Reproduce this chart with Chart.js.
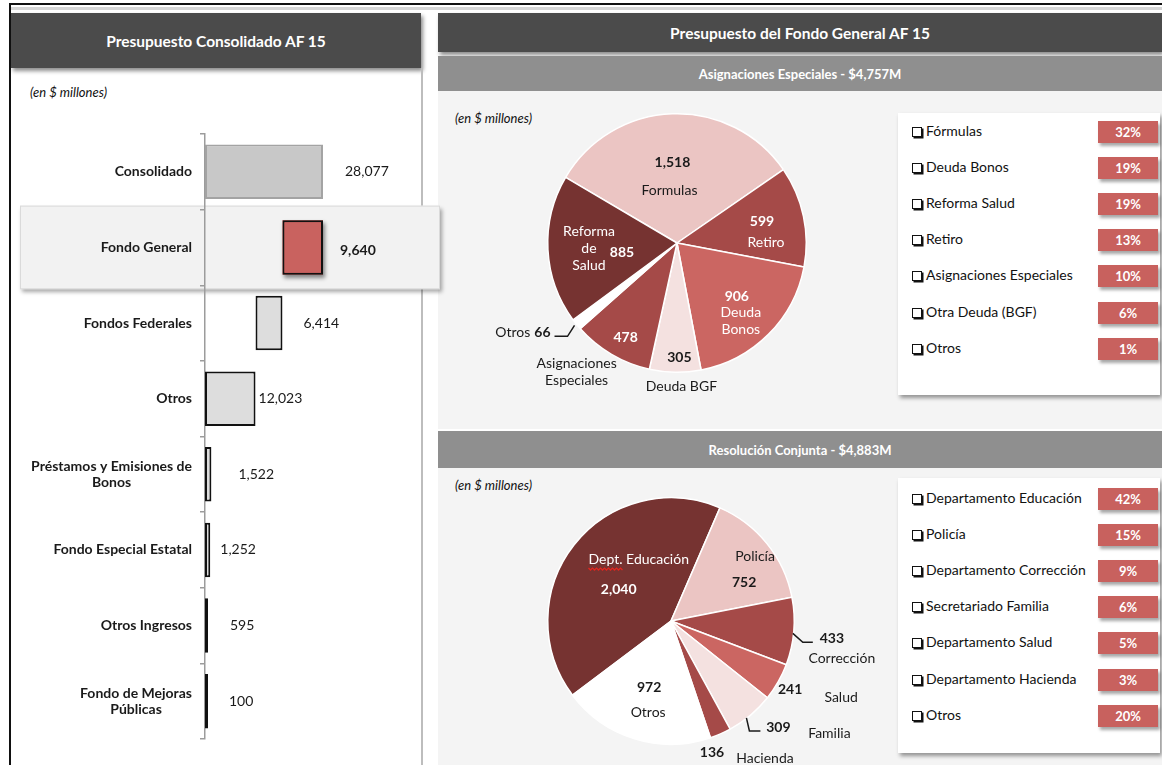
<!DOCTYPE html>
<html lang="es">
<head>
<meta charset="utf-8">
<title>Presupuesto AF 15</title>
<script src="https://cdn.jsdelivr.net/npm/chart.js@4.4.1/dist/chart.umd.min.js"></script>
<style>
  html, body { margin: 0; padding: 0; background: #fff; }
  body { width: 1162px; height: 765px; position: relative; overflow: hidden;
         font-family: Lato, 'DejaVu Sans', sans-serif; color: #111; }
  .abs { position: absolute; }
  .bar-head { background: #4b4b4b; color: #fff; font-weight: bold; font-size: 15.5px;
              display: flex; align-items: center; justify-content: center;
              box-shadow: 2px 3px 4px rgba(0,0,0,.45); }
  .sub-head { left: 438px; width: 724px; background: #8f8f8f; color: #fff; font-weight: bold;
              font-size: 13px; display: flex; align-items: center; justify-content: center; }
  .panel { left: 438px; width: 724px; background: #f4f4f4; }
  .unit { font-style: italic; font-size: 13px; }
  .legend { left: 898px; width: 262px; background: #fff; box-shadow: 2px 3px 4px rgba(0,0,0,.4); }
  .legend .row { position: absolute; left: 14px; font-size: 14px; line-height: 20px; white-space: nowrap; }
  .legend .tick { display: inline-block; width: 8px; height: 8px; border: 1.5px solid #111;
                  box-shadow: 1.5px 1.5px 0 #111; margin-right: 4px; vertical-align: -1px; background: #fff; }
  .legend .badge { position: absolute; left: 200px; width: 60px; height: 22px; line-height: 22px;
                   background: #c8615e; color: #fff; font-weight: bold; font-size: 13px; text-align: center;
                   box-shadow: 2px 3px 3px rgba(0,0,0,.35); }
  canvas { position: absolute; }
</style>
</head>
<body>
  <div class="abs" style="left:10px;top:3px;width:1152px;height:2px;background:#111"></div>
  <div class="abs" style="left:10px;top:7px;width:1152px;height:3px;background:#d6d6d6"></div>
  <div class="abs" style="left:9px;top:3px;width:2px;height:762px;background:#111"></div>

  <!-- left column -->
  <div class="abs bar-head" style="left:11px;top:13px;width:410px;height:55px">Presupuesto Consolidado AF 15</div>
  <div class="abs" style="left:421px;top:68px;width:2px;height:697px;background:#bdbdbd"></div>
  <div class="abs unit" style="left:30px;top:84px">(en $ millones)</div>

  <!-- right column -->
  <div class="abs bar-head" style="left:438px;top:13px;width:724px;height:39px">Presupuesto del Fondo General AF 15</div>
  <div class="abs sub-head" id="asigHead" style="top:56px;height:35px"></div>
  <div class="abs panel" style="top:91px;height:338px"></div>
  <div class="abs unit" style="left:455px;top:110px">(en $ millones)</div>
  <div class="abs legend" id="asigLegend" style="top:113px;height:282px"></div>

  <div class="abs sub-head" id="rcHead" style="top:431px;height:37px"></div>
  <div class="abs panel" style="top:468px;height:297px"></div>
  <div class="abs unit" style="left:455px;top:477px">(en $ millones)</div>
  <div class="abs legend" id="rcLegend" style="top:478px;height:275px"></div>

  <canvas id="barChart" width="440" height="665" style="left:10px;top:100px"></canvas>
  <canvas id="asigChart" width="455" height="338" style="left:440px;top:92px"></canvas>
  <canvas id="rcChart" width="455" height="297" style="left:440px;top:468px"></canvas>

<script>
// Presupuesto consolidado (en $ millones)
const barCategories = ['Consolidado', 'Fondo General', 'Fondos Federales', 'Otros',
  'Préstamos y Emisiones de\nBonos', 'Fondo Especial Estatal', 'Otros Ingresos', 'Fondo de Mejoras\nPúblicas'];
const barAmounts = [28077, 9640, 6414, 12023, 1522, 1252, 595, 100];
// parts of the consolidated total, stacked from the axis outwards
const waterfallParts = [3, 2, 1];
const focusIndex = 1;

// Asignaciones especiales
const asigNames = ['Formulas', 'Retiro', 'Deuda\nBonos', 'Deuda BGF', 'Asignaciones\nEspeciales', 'Otros', 'Reforma\nde\nSalud'];
const asigLegendNames = ['Fórmulas', 'Retiro', 'Deuda Bonos', 'Otra Deuda (BGF)', 'Asignaciones Especiales', 'Otros', 'Reforma Salud'];
const asigValues = [1518, 599, 906, 305, 478, 66, 885];

// Resolución conjunta
const rcNames = ['Dept. Educación', 'Policía', 'Corrección', 'Salud', 'Familia', 'Hacienda', 'Otros'];
const rcLegendNames = ['Departamento Educación', 'Policía', 'Departamento Corrección', 'Departamento Salud',
  'Secretariado Familia', 'Departamento Hacienda', 'Otros'];
const rcValues = [2040, 752, 433, 241, 309, 136, 972];

const DARK = '#1a1a1a';
const MAROON = '#763331', BRICK = '#a54a48', SALMON = '#cb6662', ROSE = '#ebc5c3', BLUSH = '#f4e1e0';
const FONT = 'Lato, "DejaVu Sans", sans-serif';
const fmt = v => v.toLocaleString('en-US');
const sum = a => a.reduce((s, v) => s + v, 0);

Chart.defaults.font.family = FONT;

// ---------- waterfall bar chart ----------
const barStarts = barAmounts.map(() => 0);
let running = 0;
waterfallParts.forEach(i => { barStarts[i] = running; running += barAmounts[i]; });
const barRanges = barAmounts.map((v, i) => [barStarts[i], barStarts[i] + v]);

const barFill = ['#c8c8c8', '#c9625f', '#dddddd', '#dddddd', '#dddddd', '#dddddd', '#111', '#111'];
const barEdge = ['#a3a3a3', '#111', '#111', '#111', '#111', '#111', '#111', '#111'];
const valueGap = [22, 17, 21, 3, 27, 10, 22, 21];

const focusBand = {
  id: 'focusBand',
  beforeDraw(chart) {
    const y = chart.scales.y;
    const mid = y.getPixelForTick(focusIndex);
    const half = (y.getPixelForTick(1) - y.getPixelForTick(0)) / 2 + 4;
    const ctx = chart.ctx;
    ctx.save();
    ctx.shadowColor = 'rgba(0,0,0,0.35)';
    ctx.shadowOffsetX = 2; ctx.shadowOffsetY = 3; ctx.shadowBlur = 4;
    ctx.fillStyle = '#f2f2f2';
    ctx.fillRect(10, mid - half, 420, half * 2);
    ctx.restore();
    ctx.save();
    ctx.strokeStyle = '#dadada';
    ctx.lineWidth = 1;
    ctx.strokeRect(10.5, mid - half + 0.5, 419, half * 2 - 1);
    ctx.restore();
  },
  beforeDatasetsDraw(chart) {
    // soft drop shadow behind the highlighted bar
    const bar = chart.getDatasetMeta(0).data[focusIndex];
    const ctx = chart.ctx;
    ctx.save();
    ctx.shadowColor = 'rgba(0,0,0,0.45)';
    ctx.shadowOffsetX = 2; ctx.shadowOffsetY = 3; ctx.shadowBlur = 4;
    ctx.fillStyle = barFill[focusIndex];
    ctx.fillRect(bar.base, bar.y - bar.height / 2, bar.x - bar.base, bar.height);
    ctx.restore();
  }
};

const categoryText = {
  id: 'categoryText',
  afterDraw(chart) {
    const y = chart.scales.y;
    const ctx = chart.ctx;
    const right = chart.chartArea.left - 13;
    ctx.save();
    ctx.font = 'bold 14px ' + FONT;
    ctx.fillStyle = DARK;
    ctx.textAlign = 'center';
    ctx.textBaseline = 'middle';
    barCategories.forEach((label, i) => {
      const lines = label.split('\n');
      const w = Math.max(...lines.map(l => ctx.measureText(l).width));
      const cy = y.getPixelForTick(i) - (lines.length - 1) * 8;
      lines.forEach((l, k) => ctx.fillText(l, right - w / 2, cy + k * 16));
    });
    ctx.restore();
  }
};

const valueText = {
  id: 'valueText',
  afterDatasetsDraw(chart) {
    const ctx = chart.ctx;
    ctx.save();
    ctx.fillStyle = DARK;
    ctx.textAlign = 'left';
    ctx.textBaseline = 'middle';
    chart.getDatasetMeta(0).data.forEach((bar, i) => {
      ctx.font = (i === focusIndex ? 'bold 14px ' : '14px ') + FONT;
      ctx.fillText(fmt(barAmounts[i]), bar.x + valueGap[i], bar.y + (i === focusIndex ? 3 : 0));
    });
    ctx.restore();
  }
};

new Chart(document.getElementById('barChart'), {
  type: 'bar',
  data: {
    labels: barCategories,
    datasets: [{
      data: barRanges,
      backgroundColor: barFill,
      borderColor: barEdge,
      borderWidth: 2,
      borderSkipped: false,
      categoryPercentage: 0.72,
      barPercentage: 1,
      minBarLength: 3
    }]
  },
  options: {
    indexAxis: 'y',
    responsive: false,
    animation: false,
    devicePixelRatio: 1,
    layout: { padding: { top: 34, bottom: 26, left: 0, right: 0 } },
    plugins: { legend: { display: false }, tooltip: { enabled: false } },
    scales: {
      x: { display: false, min: 0, max: 58300 },
      y: {
        grid: { offset: true, drawOnChartArea: false, tickLength: 5, color: '#9c9c9c', lineWidth: 1.5 },
        border: { color: '#9c9c9c', width: 1.5 },
        ticks: { display: false },
        afterFit(scale) { scale.width = 195; }
      }
    }
  },
  plugins: [focusBand, categoryText, valueText]
});

// ---------- pies ----------
const asigColors = [ROSE, BRICK, SALMON, BLUSH, BRICK, '#ffffff', MAROON];
const rcColors = [MAROON, ROSE, BRICK, SALMON, BLUSH, BRICK, '#ffffff'];

// label placement per slice: radius fraction along the slice's mid angle plus pixel nudges
const asigLabelLayout = [
  { frac: 0.55, value: [-2, -9], name: [-5, 19], vColor: DARK, nColor: DARK },
  { frac: 0.68, value: [-1, -3], name: [3, 18], vColor: '#fff', nColor: '#fff' },
  { frac: 0.72, value: [-6, -12], name: [-2, 4], vColor: '#fff', nColor: '#fff' },
  { frac: 0.88, value: [4, 1], name: [6, 30], vColor: DARK, nColor: DARK },
  { frac: 0.8, value: [1, 5], name: [-48, 31], vColor: '#fff', nColor: DARK },
  { frac: 1.0, inline: [-26, 8], leader: [[-2, 1], [-9, 12], [-22, 12]], vColor: DARK, nColor: DARK },
  { frac: 0.62, value: [25, 5], name: [-8, -16], vColor: '#fff', nColor: '#fff' }
];
const rcLabelLayout = [
  { frac: 0.55, value: [1, 10], name: [21, -20], vColor: '#fff', nColor: '#fff', squiggle: 'Dept.' },
  { frac: 0.72, value: [4, 17], name: [15, -9], vColor: DARK, nColor: DARK },
  { frac: 1.0, value: [38, 7], name: [48, 27], leader: [[-1, 2], [9, 11], [19, 11]], vColor: DARK, nColor: DARK },
  { frac: 1.0, value: [12, 8], name: [63, 16], vColor: DARK, nColor: DARK },
  { frac: 0.9, value: [36, 22], name: [87, 28], leader: [[4, 12], [7, 25], [18, 25]], vColor: DARK, nColor: DARK },
  { frac: 1.05, value: [-11, 13], name: [42, 19], vColor: DARK, nColor: DARK },
  { frac: 0.6, value: [0, -4], name: [-1, 21], vColor: DARK, nColor: DARK }
];

function sliceLabels(names, values, layout) {
  return {
    id: 'sliceLabels',
    afterDatasetsDraw(chart) {
      const ctx = chart.ctx;
      ctx.save();
      ctx.textBaseline = 'middle';
      chart.getDatasetMeta(0).data.forEach((arc, i) => {
        const L = layout[i];
        const mid = (arc.startAngle + arc.endAngle) / 2;
        const r = arc.outerRadius * L.frac;
        const ax = arc.x + Math.cos(mid) * r;
        const ay = arc.y + Math.sin(mid) * r;
        if (L.leader) {
          ctx.strokeStyle = DARK;
          ctx.lineWidth = 1.5;
          ctx.beginPath();
          L.leader.forEach(([dx, dy], k) => k ? ctx.lineTo(ax + dx, ay + dy) : ctx.moveTo(ax + dx, ay + dy));
          ctx.stroke();
        }
        if (L.inline) {
          const x = ax + L.inline[0], y = ay + L.inline[1];
          ctx.textAlign = 'right';
          ctx.font = 'bold 14px ' + FONT;
          ctx.fillStyle = L.vColor;
          ctx.fillText(fmt(values[i]), x, y);
          const w = ctx.measureText(fmt(values[i])).width;
          ctx.font = '14px ' + FONT;
          ctx.fillStyle = L.nColor;
          ctx.fillText(names[i], x - w - 4, y);
          return;
        }
        ctx.textAlign = 'center';
        ctx.font = 'bold 14px ' + FONT;
        ctx.fillStyle = L.vColor;
        ctx.fillText(fmt(values[i]), ax + L.value[0], ay + L.value[1]);
        ctx.font = '14px ' + FONT;
        ctx.fillStyle = L.nColor;
        names[i].split('\n').forEach((ln, k) => {
          const x = ax + L.name[0], y = ay + L.name[1] + k * 17;
          ctx.fillText(ln, x, y);
          if (L.squiggle && k === 0) {
            // red wavy underline under the abbreviation
            const x0 = x - ctx.measureText(ln).width / 2;
            const w = ctx.measureText(L.squiggle).width;
            ctx.save();
            ctx.strokeStyle = '#e3261f';
            ctx.lineWidth = 1.3;
            ctx.beginPath();
            for (let s = 0; s <= w; s += 2) {
              const py = y + 9 + ((s / 2) % 2 ? 2 : 0);
              s ? ctx.lineTo(x0 + s, py) : ctx.moveTo(x0 + s, py);
            }
            ctx.stroke();
            ctx.restore();
          }
        });
      });
      ctx.restore();
    }
  };
}

function pieChart(id, names, legendNames, values, colors, rotation, padding, layout) {
  return new Chart(document.getElementById(id), {
    type: 'pie',
    data: {
      labels: legendNames,
      datasets: [{ data: values, backgroundColor: colors, borderColor: '#ffffff', borderWidth: 1.5 }]
    },
    options: {
      responsive: false,
      animation: false,
      devicePixelRatio: 1,
      rotation: rotation,
      layout: { padding: padding },
      plugins: { legend: { display: false }, tooltip: { enabled: false } }
    },
    plugins: [sliceLabels(names, values, layout)]
  });
}

pieChart('asigChart', asigNames, asigLegendNames, asigValues, asigColors, -59.5,
  { left: 107, right: 88, top: 21, bottom: 57 }, asigLabelLayout);
pieChart('rcChart', rcNames, rcLegendNames, rcValues, rcColors, -127,
  { left: 107, right: 100, top: 29, bottom: 20 }, rcLabelLayout);

// ---------- section titles and share legends ----------
document.getElementById('asigHead').textContent = 'Asignaciones Especiales - $' + fmt(sum(asigValues)) + 'M';
document.getElementById('rcHead').textContent = 'Resolución Conjunta - $' + fmt(sum(rcValues)) + 'M';

function buildLegend(boxId, names, values, firstRow) {
  const box = document.getElementById(boxId);
  const total = sum(values);
  // largest first, 'Otros' always last
  const order = values.map((v, i) => i)
    .sort((a, b) => (names[b] === 'Otros' ? -1 : values[b]) - (names[a] === 'Otros' ? -1 : values[a]));
  order.forEach((i, k) => {
    const cy = firstRow + k * 36.1;
    const row = document.createElement('div');
    row.className = 'row';
    row.style.top = (cy - 10) + 'px';
    const tick = document.createElement('span');
    tick.className = 'tick';
    row.appendChild(tick);
    row.appendChild(document.createTextNode(names[i]));
    const badge = document.createElement('div');
    badge.className = 'badge';
    badge.style.top = (cy - 10) + 'px';
    badge.textContent = Math.round(values[i] / total * 100) + '%';
    box.appendChild(row);
    box.appendChild(badge);
  });
}

buildLegend('asigLegend', asigLegendNames, asigValues, 18);
buildLegend('rcLegend', rcLegendNames, rcValues, 20);
</script>
</body>
</html>
